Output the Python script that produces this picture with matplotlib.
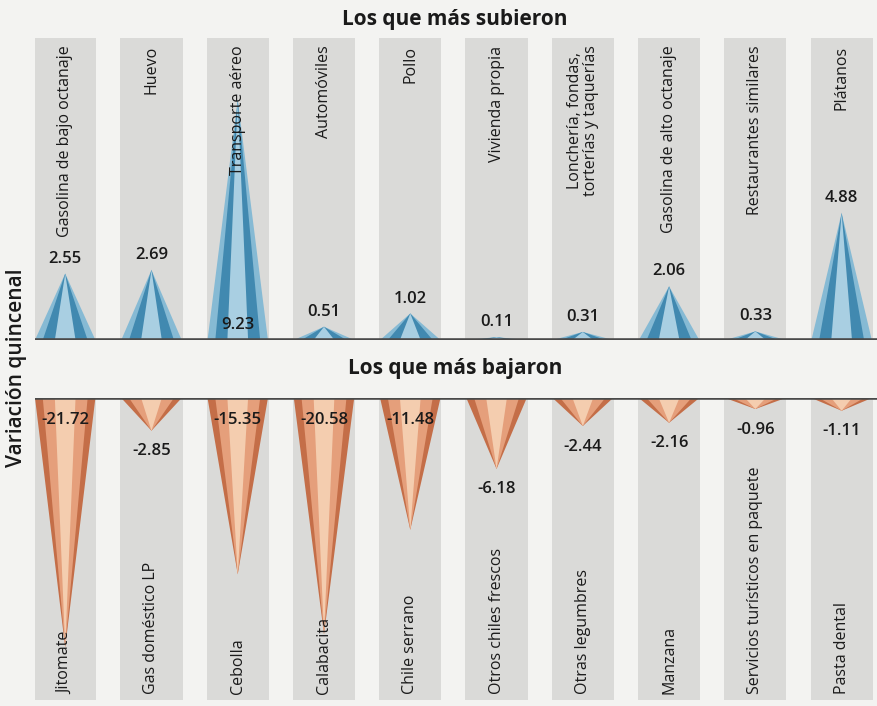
import matplotlib
matplotlib.use("Agg")
import matplotlib.pyplot as plt
import numpy as np

# data
up_labels = ["Gasolina de bajo octanaje", "Huevo", "Transporte aéreo", "Automóviles",
             "Pollo", "Vivienda propia", "Lonchería, fondas,\ntorterías y taquerías",
             "Gasolina de alto octanaje", "Restaurantes similares", "Plátanos"]
up_values = [2.55, 2.69, 9.23, 0.51, 1.02, 0.11, 0.31, 2.06, 0.33, 4.88]

down_labels = ["Jitomate", "Gas doméstico LP", "Cebolla", "Calabacita", "Chile serrano",
               "Otros chiles frescos", "Otras legumbres", "Manzana",
               "Servicios turísticos en paquete", "Pasta dental"]
down_values = [-21.72, -2.85, -15.35, -20.58, -11.48, -6.18, -2.44, -2.16, -0.96, -1.11]

plt.rcParams['font.family'] = ['Open Sans', 'DejaVu Sans']

BG = "#f3f3f1"
BAND = "#dadad8"
BLUES = ["#86bad4", "#4189b0", "#a9cfe2"]
ORANGES = ["#c46e48", "#e59f7b", "#f4cdaf"]

W, H = 877, 706
fig = plt.figure(figsize=(W / 100, H / 100), dpi=100, facecolor=BG)


def px_axes(x0, y0, x1, y1):
    return fig.add_axes([x0 / W, 1 - y1 / H, (x1 - x0) / W, (y1 - y0) / H])


def draw_spikes(ax, values, colors):
    x = np.arange(len(values))
    for xi, v in zip(x, values):
        ax.axvspan(xi - 0.36, xi + 0.36, color=BAND, zorder=0, lw=0)
        # layered triangles: outer, dark band, light centre
        for w, c in zip([0.35, 0.26, 0.12], colors):
            ax.fill([xi - w, xi, xi + w], [0, v, 0], color=c, lw=0, zorder=2)
    ax.axhline(0, color="#4a4a4a", lw=2.6, zorder=3)
    ax.set_xlim(-0.35, 9.41)
    ax.set_facecolor(BG)
    ax.set_xticks([])
    ax.set_yticks([])
    for s in ax.spines.values():
        s.set_visible(False)
    return x


# top panel: los que más subieron
ax_up = px_axes(35, 38, 877, 340)
xs = draw_spikes(ax_up, up_values, BLUES)
ax_up.set_ylim(0, 11.6)
for xi, lab, v in zip(xs, up_labels, up_values):
    ax_up.annotate(lab, xy=(xi, 0.975), xycoords=('data', 'axes fraction'),
                   rotation=90, ha='center', va='top', fontsize=11.5,
                   color="#1a1a1a", linespacing=0.95, zorder=5)
    if v == max(up_values):
        ax_up.annotate(f"{v:.2f}", xy=(xi, 0), xytext=(0, 5), textcoords='offset points',
                       ha='center', va='bottom', fontsize=12, fontweight='semibold',
                       color="#1a1a1a", zorder=5)
    else:
        ax_up.annotate(f"{v:.2f}", xy=(xi, v), xytext=(0, 5), textcoords='offset points',
                       ha='center', va='bottom', fontsize=12, fontweight='semibold',
                       color="#1a1a1a", zorder=5)

# bottom panel: los que más bajaron
ax_dn = px_axes(35, 398, 877, 700)
xs = draw_spikes(ax_dn, down_values, ORANGES)
ax_dn.set_ylim(-26.3, 0)
for xi, lab, v in zip(xs, down_labels, down_values):
    ax_dn.annotate(lab, xy=(xi, 0.02), xycoords=('data', 'axes fraction'),
                   rotation=90, ha='center', va='bottom', fontsize=11.5,
                   color="#1a1a1a", zorder=5)
    if v < -10:
        ax_dn.annotate(f"{v:.2f}", xy=(xi, 0), xytext=(0, -10), textcoords='offset points',
                       ha='center', va='top', fontsize=12, fontweight='semibold',
                       color="#1a1a1a", zorder=5)
    else:
        ax_dn.annotate(f"{v:.2f}", xy=(xi, v), xytext=(0, -9), textcoords='offset points',
                       ha='center', va='top', fontsize=12, fontweight='semibold',
                       color="#1a1a1a", zorder=5)

# titles
fig.text(455 / W, 1 - 19 / H, "Los que más subieron", ha='center', va='center',
         fontsize=15, fontweight='bold', color="#1a1a1a")
fig.text(455 / W, 1 - 369 / H, "Los que más bajaron", ha='center', va='center',
         fontsize=15, fontweight='bold', color="#1a1a1a")
fig.text(17 / W, 1 - 368 / H, "Variación quincenal", rotation=90, ha='center', va='center',
         fontsize=15, fontweight='semibold', color="#1a1a1a")

fig.savefig("out.png", dpi=100, facecolor=BG)
